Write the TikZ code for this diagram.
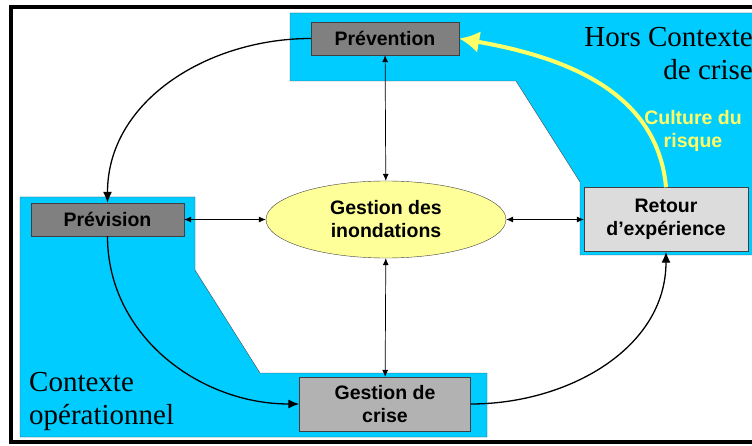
\documentclass[tikz,border=0pt]{standalone}
\usepackage{fontspec}
\setmainfont{Liberation Serif}
\setsansfont{Liberation Sans}
\usetikzlibrary{arrows.meta, shapes.geometric}
\definecolor{zonecyan}{HTML}{00CCFF}
\definecolor{darkbox}{HTML}{808080}
\definecolor{midbox}{HTML}{B2B2B2}
\definecolor{lightbox}{HTML}{DCDCDC}
\definecolor{paleyellow}{HTML}{FFFF99}
\definecolor{culture}{HTML}{FFFF66}
\def\ZoneColor{zonecyan}
\def\BoxFont{\sffamily\bfseries\fontsize{19.5}{23}\selectfont}
\def\ZoneFont{\rmfamily\fontsize{29}{33}\selectfont}

\begin{document}
\begin{tikzpicture} [
     x=1pt, y=-1pt,
   box/.style = {draw=black!75, font=\BoxFont, align=center, inner sep=0pt},
  zone/.style = {fill=\ZoneColor, draw=black!70},
  link/.style = {draw, line width=1.3pt, -{Latex[length=11pt,width=9pt]}},
  rise/.style = {draw=culture, line width=4pt, -{Latex[length=20pt,width=22pt]}},
    every edge/.style={draw, {Latex[length=7pt,width=6pt]}-{Latex[length=7pt,width=6pt]}, line width=0.7pt}
]
  \useasboundingbox (0,0) rectangle (752,446);
  \clip (0,0) rectangle (752,446);

  % Frame
  \draw[line width=4pt] (11,7) rectangle (790,442);

  % Zones
  \path[zone] (290,13) -- (790,13) -- (790,255) -- (580,255) -- (580,182)
    -- (516,81) -- (290,81) -- cycle;
  \path[zone] (20,197) -- (195,197) -- (195,270) -- (260,373) -- (487,373)
    -- (487,437) -- (20,437) -- cycle;

  % Nodes and Positions
  % TOP
  \node[box, fill=darkbox, minimum width=148, minimum height=33] (prevention) at (385,38.5) {Prévention};

  % MIDDLE
  \node[box, fill=darkbox, minimum width=153, minimum height=33] (prevision) at (107.5,219.5) {Prévision};
  \node[box, shape=ellipse, fill=paleyellow, minimum width=240, minimum height=77] (inondations) at (386,219.5) {Gestion des\\inondations};
  \node[box, fill=lightbox, minimum width=164, minimum height=64] (retour) at (666,219.5) {Retour\\d’expérience};

  % BOTTOM
  \node[box, fill=midbox, minimum width=171, minimum height=54] (gestion) at (385,404) {Gestion de\\crise};

  % Labels
  \node[font=\BoxFont, text=culture, align=center] (risque) at (693,131) {Culture du\\risque};
  \node[font=\ZoneFont, align=right, anchor=north east, inner sep=0pt] (hors) at (753,27) {Hors Contexte\\de crise};
  \node[font=\ZoneFont, align=left, anchor=south west, inner sep=0pt] (operationnel) at (29,431) {Contexte\\opérationnel};

  % Edges
  \path (prevention) edge (inondations);
  \path (inondations) edge (gestion);
  \path (prevision) edge (inondations);
  \path (inondations) edge (retour);

  \draw[link] (prevention.west) to [out=180, in=90] (prevision.north);
  \draw[link] (prevision.south) to [out=-90, in=180] (gestion.west);
  \draw[link] (gestion.east) to [out=0, in=-90] (retour.south);
  \draw[rise] (retour.north) to [out=95, in=-10] (prevention.east);

\end{tikzpicture}
\end{document}
